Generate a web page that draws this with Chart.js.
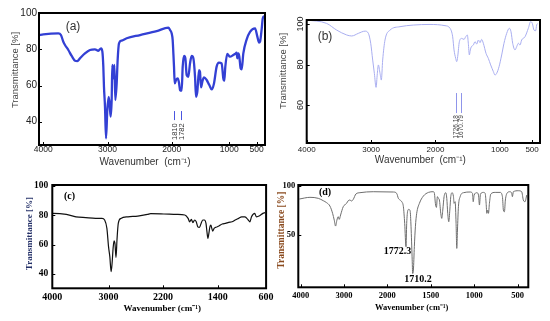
<!DOCTYPE html>
<html><head><meta charset="utf-8">
<script src="https://cdn.jsdelivr.net/npm/chart.js@4.4.1/dist/chart.umd.min.js"></script>
<style>
html,body{margin:0;padding:0;background:#fff;width:550px;height:321px;overflow:hidden;position:relative}
canvas{position:absolute;display:block}
</style></head><body>
<canvas id="pa" width="275" height="172" style="left:0;top:0"></canvas>
<canvas id="pb" width="273" height="172" style="left:277px;top:0"></canvas>
<canvas id="pc" width="277" height="151" style="left:0;top:170px"></canvas>
<canvas id="pd" width="273" height="151" style="left:277px;top:170px"></canvas>
<script>
// ---------- Panel (a) ----------
const aWave = [4068,4000,3766,3725,3688,3662,3610,3558,3506,3470,3429,3351,3273,3195,3143,3101,3080,3065,3055,3039,3023,3003,2982,2966,2951,2935,2925,2909,2893,2878,2857,2842,2821,2779,2701,2493,2234,2052,2026,2000,1983,1971,1960,1948,1925,1896,1873,1855,1827,1809,1786,1763,1740,1711,1682,1653,1624,1595,1578,1555,1526,1509,1491,1468,1439,1393,1347,1306,1266,1220,1179,1133,1104,1087,1069,1035,988,927,896,866,854,835,817,793,774,744,683,622,530,488,457,439,408,390,360];
const aTrans = [88.0,88.4,88.9,88.0,84.3,82.5,79.7,76.4,73.8,73.6,75.1,77.8,79.7,80.1,79.3,80.6,78.8,70.5,59.4,48.3,30.8,46.5,53.8,49.2,42.8,52.0,71.4,64.0,71.4,52.0,61.2,74.2,83.4,84.9,86.2,88.0,90.2,92.1,90.8,88.9,85.2,77.8,70.5,61.2,63.1,64.0,61.6,57.5,57.2,70.5,76.4,75.1,65.8,64.9,72.3,76.4,75.1,64.9,53.8,56.6,68.6,67.7,59.0,62.2,64.6,63.1,60.3,57.9,61.2,70.5,72.7,72.3,64.0,62.7,70.5,77.5,76.0,76.9,77.5,78.2,75.1,77.8,76.0,69.5,69.0,77.8,85.6,89.8,91.7,87.1,83.8,84.3,91.7,97.2,98.5];
const aXTicks = [4000,3000,2000,1000,500];
const aYTicks = [40,60,80,100];
const aPeakAt = [1960,1838];
const aPeakText = ['1810','1782'];

// ---------- Panel (b) ----------
const bWave = [4000,3689,3534,3379,3301,3198,3094,3042,3006,2975,2949,2923,2903,2887,2861,2841,2820,2784,2706,2551,2344,2085,1852,1774,1733,1712,1686,1671,1655,1629,1593,1557,1531,1505,1490,1474,1459,1443,1412,1386,1360,1334,1308,1283,1257,1215,1179,1143,1101,1076,1050,1013,972,936,894,853,827,801,765,739,713,687,662,610,558,522,496,470,444,429,413];
const bTrans = [102.0,100.3,97.0,94.6,94.1,95.4,96.5,95.4,90.5,82.2,75.6,68.7,75.6,79.8,75.6,72.3,82.2,92.1,97.0,98.7,99.5,99.8,99.2,97.9,93.7,87.2,83.0,81.4,83.9,91.3,92.9,92.4,93.7,94.6,90.5,84.7,87.2,88.8,89.6,91.3,90.1,92.1,90.8,92.4,90.5,85.5,83.0,79.8,76.5,74.8,75.6,78.9,84.7,90.5,95.4,97.9,96.2,90.5,87.2,88.8,90.5,89.6,92.1,93.7,97.9,101.2,100.3,97.0,96.7,99.5,100.3];
const bXTicks = [4000,3000,2000,1000,500];
const bYTicks = [60,80,100];
const bPeakAt = [1686,1609];
const bPeakText = ['1726.18','1670.79'];

// ---------- Panel (c) ----------
const cWave = [4000,3982,3751,3578,3404,3231,3116,3069,3029,3000,2981,2962,2948,2933,2919,2905,2890,2876,2857,2819,2714,2571,2429,2381,2190,2000,1881,1833,1810,1786,1762,1738,1714,1691,1667,1643,1619,1595,1571,1557,1543,1529,1514,1500,1486,1471,1452,1429,1379,1325,1271,1218,1164,1110,1057,1003,949,895,868,841,788,761,707,654,617];
const cTrans = [81.0,81.2,80.5,78.9,78.3,77.8,77.8,76.7,71.0,58.6,51.8,41.6,47.2,57.4,62.6,60.4,51.3,63.1,74.4,77.8,78.9,79.4,80.5,81.0,80.8,80.5,80.1,77.8,75.5,77.1,74.9,76.7,75.5,72.1,71.7,74.4,76.7,76.7,74.4,68.7,64.2,67.6,72.1,73.3,71.0,69.2,71.0,71.7,72.6,74.0,74.4,75.1,75.5,76.7,77.8,78.9,78.9,76.7,75.5,78.9,81.2,78.9,79.6,81.2,81.7];
const cXTicks = [4000,3000,2200,1400,600];
const cYTicks = [40,60,80,100];

// ---------- Panel (d) ----------
const dWave = [4034,3788,3595,3480,3403,3326,3264,3226,3195,3164,3133,3110,3079,3018,2941,2902,2864,2825,2787,2725,2633,2325,1930,1892,1873,1854,1834,1815,1800,1785,1777,1765,1754,1738,1727,1715,1708,1700,1689,1677,1662,1631,1585,1527,1470,1458,1447,1435,1424,1412,1401,1385,1374,1362,1347,1328,1316,1305,1293,1281,1270,1255,1239,1232,1220,1209,1201,1193,1182,1162,1124,1047,1020,1012,1001,970,951,940,928,894,874,863,855,844,836,825,809,759,702,675,664,652,641,618,587,568,560,549,491,453,434,414,395];
const dTrans = [86.5,88.2,87.2,84.8,82.8,79.4,72.0,65.2,59.1,65.2,68.6,65.9,70.3,78.7,82.1,84.8,85.5,84.5,86.1,91.6,92.9,93.9,93.6,92.2,87.2,85.5,83.8,78.7,61.8,38.2,61.8,74.7,76.0,74.7,58.4,28.0,11.1,14.5,38.2,58.4,72.0,82.1,89.5,93.2,93.9,92.2,82.1,78.0,88.9,87.2,85.5,72.0,66.9,75.3,88.9,92.9,87.2,72.0,63.5,75.3,88.9,92.9,88.9,82.1,83.8,61.8,36.5,55.1,78.7,88.9,92.9,93.6,92.2,83.8,90.5,92.9,90.5,80.4,91.6,93.2,92.2,82.1,72.0,75.3,72.0,82.1,91.6,93.2,93.2,88.9,75.3,73.6,85.5,92.9,93.9,92.2,88.9,93.9,94.9,93.9,85.5,83.8,90.5];
const dXTicks = [4000,3000,2000,1500,1000,500];
const dYTicks = [50,100];
const dPeakAt = [[1883,33.1],[1647,5.5]];
const dPeakText = ['1772.3','1710.2'];

// ---------- axis warps (wavenumber -> fraction of axis width) ----------
const aWarp = [[4000,0.0190],[3000,0.3031],[2000,0.5872],[1000,0.8420],[500,0.9633]];
const bWarp = [[4000,0],[3000,0.276],[2000,0.552],[1000,0.828],[500,0.966]];
const cWarp = [[4000,0],[3000,0.263],[2200,0.518],[1400,0.7735],[600,1.0]];
const dWarp = [[4000,0.0109],[3000,0.1987],[2000,0.387],[1500,0.576],[1000,0.765],[500,0.9535]];

function makeWarp(anchors) {
  return w => {
    let i = 0;
    while (i < anchors.length - 2 && w < anchors[i + 1][0]) i++;
    const [w0, f0] = anchors[i], [w1, f1] = anchors[i + 1];
    return f0 + (w - w0) * (f1 - f0) / (w1 - w0);
  };
}

const SANS = 'Liberation Sans', SERIF = 'Liberation Serif';

function buildPanel(id, c) {
  const warp = makeWarp(c.warp);
  const deco = {
    id: 'deco_' + id,
    afterDraw(chart) {
      const {ctx, chartArea: a, scales: {x, y}} = chart;
      const X = w => x.getPixelForValue(warp(w));
      const Y = v => y.getPixelForValue(v);
      ctx.save();
      // inward tick marks
      ctx.strokeStyle = '#000'; ctx.lineWidth = 1; ctx.beginPath();
      c.yTicks.forEach(v => { const py = Math.round(Y(v)) + 0.5; ctx.moveTo(a.left, py); ctx.lineTo(a.left + 3, py); });
      c.xTicks.forEach(w => { const px = Math.round(X(w)) + 0.5; ctx.moveTo(px, a.bottom); ctx.lineTo(px, a.bottom - 3); });
      ctx.stroke();
      // frame
      ctx.lineWidth = c.frameW;
      ctx.strokeRect(a.left, a.top, a.right - a.left, a.bottom - a.top);
      ctx.textAlign = 'center'; ctx.textBaseline = 'middle';
      // axis titles
      ctx.fillStyle = c.xTitleColor; ctx.font = c.xTitleFont;
      ctx.fillText(c.xTitle, (a.left + a.right) / 2 + c.xTitleDx, a.bottom + c.xTitleDy);
      ctx.save();
      ctx.translate(a.left - c.yTitleDx, (a.top + a.bottom) / 2 + c.yTitleDy);
      ctx.rotate(-Math.PI / 2);
      ctx.fillStyle = c.yTitleColor; ctx.font = c.yTitleFont;
      ctx.fillText(c.yTitle, 0, 0);
      ctx.restore();
      // rotated y tick labels
      if (c.rotY) {
        ctx.fillStyle = c.tickColor; ctx.font = c.rotY.font;
        c.yTicks.forEach(v => {
          ctx.save(); ctx.translate(a.left - c.rotY.dx, Y(v)); ctx.rotate(-Math.PI / 2);
          ctx.fillText(String(v), 0, 0); ctx.restore();
        });
      }
      // panel tag
      ctx.fillStyle = c.tagColor; ctx.font = c.tagFont;
      ctx.fillText(c.tag, X(c.tagAt[0]), Y(c.tagAt[1]));
      // peak marker lines with rotated labels
      if (c.peakLines) {
        const p = c.peakLines;
        p.at.forEach((w, i) => {
          const px = Math.round(X(w)) + 0.5;
          ctx.strokeStyle = p.color; ctx.lineWidth = 1;
          ctx.beginPath(); ctx.moveTo(px, Y(p.from)); ctx.lineTo(px, Y(p.to)); ctx.stroke();
          ctx.save(); ctx.translate(px, Y(p.textTop)); ctx.rotate(-Math.PI / 2);
          ctx.textAlign = 'right'; ctx.fillStyle = p.textColor; ctx.font = p.font;
          ctx.fillText(p.text[i], 0, 0); ctx.restore();
        });
      }
      // peak text labels
      if (c.peakLabels) {
        const p = c.peakLabels;
        ctx.fillStyle = p.color; ctx.font = p.font;
        p.at.forEach((pt, i) => ctx.fillText(p.text[i], X(pt[0]), Y(pt[1])));
      }
      ctx.restore();
    }
  };
  return new Chart(document.getElementById(id), {
    type: 'line',
    data: { datasets: [{
      data: c.wave.map((w, i) => ({ x: warp(w), y: c.trans[i] })),
      borderColor: c.color, borderWidth: c.lw, pointRadius: 0,
      cubicInterpolationMode: 'monotone', fill: false
    }]},
    options: {
      responsive: false, animation: false, devicePixelRatio: 1,
      layout: { padding: c.pad },
      plugins: { legend: { display: false }, tooltip: { enabled: false } },
      scales: {
        x: {
          type: 'linear', min: 0, max: 1,
          afterFit: s => { s.height = c.xH; },
          afterBuildTicks: s => { s.ticks = c.xTicks.map(w => ({ value: warp(w) })); },
          grid: { display: false, drawTicks: false }, border: { display: false },
          ticks: { autoSkip: false, maxRotation: 0, minRotation: 0, padding: c.xTickPad,
            font: c.xTickFont, color: c.tickColor, callback: (v, i) => String(c.xTicks[i]) }
        },
        y: {
          type: 'linear', min: c.yMin, max: c.yMax,
          afterFit: s => { s.width = c.yW; },
          afterBuildTicks: s => { s.ticks = c.yTicks.map(v => ({ value: v })); },
          grid: { display: false, drawTicks: false }, border: { display: false },
          ticks: { display: !c.rotY, padding: c.yTickPad, font: c.yTickFont, color: c.tickColor }
        }
      }
    },
    plugins: [deco]
  });
}

buildPanel('pa', {
  wave: aWave, trans: aTrans, warp: aWarp, xTicks: aXTicks, yTicks: aYTicks,
  color: '#3340d4', lw: 2.3, yMin: 27.1, yMax: 100.2,
  pad: { left: 0, top: 13, right: 10, bottom: 0 }, yW: 39, xH: 27,
  xTickPad: 0, yTickPad: 2, tickColor: '#222',
  xTickFont: { family: SANS, size: 8.5 }, yTickFont: { family: SANS, size: 10 },
  frameW: 2,
  xTitle: 'Wavenumber  (cm\u207B\u00B9)', xTitleFont: '10px ' + SANS, xTitleColor: '#333', xTitleDx: -7, xTitleDy: 17,
  yTitle: 'Transmittance [%]', yTitleFont: '9.5px ' + SANS, yTitleColor: '#444', yTitleDx: 24, yTitleDy: -9,
  tag: '(a)', tagAt: [3537, 92.4], tagFont: '12px ' + SANS, tagColor: '#333',
  peakLines: { at: aPeakAt, text: aPeakText, from: 45.9, to: 40.9, textTop: 39.1,
    color: '#4a55e0', textColor: '#333', font: '7.5px ' + SANS }
});

buildPanel('pb', {
  wave: bWave, trans: bTrans, warp: bWarp, xTicks: bXTicks, yTicks: bYTicks,
  color: '#a9aef0', lw: 1, yMin: 41.2, yMax: 102,
  pad: { left: 0, top: 20, right: 10, bottom: 0 }, yW: 29.7, xH: 29,
  xTickPad: 2, yTickPad: 2, tickColor: '#222',
  xTickFont: { family: SANS, size: 8 }, yTickFont: { family: SANS, size: 9 },
  rotY: { font: '9px ' + SANS, dx: 6 },
  frameW: 2,
  xTitle: 'Wavenumber  (cm\u207B\u00B9)', xTitleFont: '10px ' + SANS, xTitleColor: '#333', xTitleDx: -3, xTitleDy: 17,
  yTitle: 'Transmittance [%]', yTitleFont: '9.5px ' + SANS, yTitleColor: '#444', yTitleDx: 23, yTitleDy: -10.5,
  tag: '(b)', tagAt: [3716, 93.6], tagFont: '12px ' + SANS, tagColor: '#333',
  peakLines: { at: bPeakAt, text: bPeakText, from: 65.9, to: 56, textTop: 55,
    color: '#8f95ea', textColor: '#444', font: '6.5px ' + SANS }
});

buildPanel('pc', {
  wave: cWave, trans: cTrans, warp: cWarp, xTicks: cXTicks, yTicks: cYTicks,
  color: '#111', lw: 1.2, yMin: 30.3, yMax: 100.5,
  pad: { left: 0, top: 15, right: 5.3, bottom: 0 }, yW: 52.3, xH: 32.7,
  xTickPad: 3.4, yTickPad: 4, tickColor: '#000',
  xTickFont: { family: SERIF, size: 10, weight: 'bold' }, yTickFont: { family: SERIF, size: 9.5, weight: 'bold' },
  frameW: 2,
  xTitle: 'Wavenumber (cm\u207B\u00B9)', xTitleFont: 'bold 9px ' + SERIF, xTitleColor: '#000', xTitleDx: 3, xTitleDy: 20,
  yTitle: 'Transmittance [%]', yTitleFont: 'bold 9px ' + SERIF, yTitleColor: '#243068', yTitleDx: 22.3, yTitleDy: -3,
  tag: '(c)', tagAt: [3693, 92.5], tagFont: 'bold 10px ' + SERIF, tagColor: '#000'
});

buildPanel('pd', {
  wave: dWave, trans: dTrans, warp: dWarp, xTicks: dXTicks, yTicks: dYTicks,
  color: '#6e6e6e', lw: 1, yMin: -2.9, yMax: 100.7,
  pad: { left: 0, top: 15, right: 21.7, bottom: 0 }, yW: 21.3, xH: 33.7,
  xTickPad: 3.6, yTickPad: 3, tickColor: '#000',
  xTickFont: { family: SERIF, size: 8.5, weight: 'bold' }, yTickFont: { family: SERIF, size: 8.5, weight: 'bold' },
  frameW: 2,
  xTitle: 'Wavenumber (cm\u207B\u00B9)', xTitleFont: 'bold 8.5px ' + SERIF, xTitleColor: '#000', xTitleDx: -1.6, xTitleDy: 20.4,
  yTitle: 'Transmittance [%]', yTitleFont: 'bold 9.5px ' + SERIF, yTitleColor: '#8a4a1e', yTitleDx: 16.3, yTitleDy: -6,
  tag: '(d)', tagAt: [3440, 92.9], tagFont: 'bold 10px ' + SERIF, tagColor: '#000',
  peakLabels: { at: dPeakAt, text: dPeakText, font: 'bold 10px ' + SERIF, color: '#000' }
});
</script>
</body></html>
